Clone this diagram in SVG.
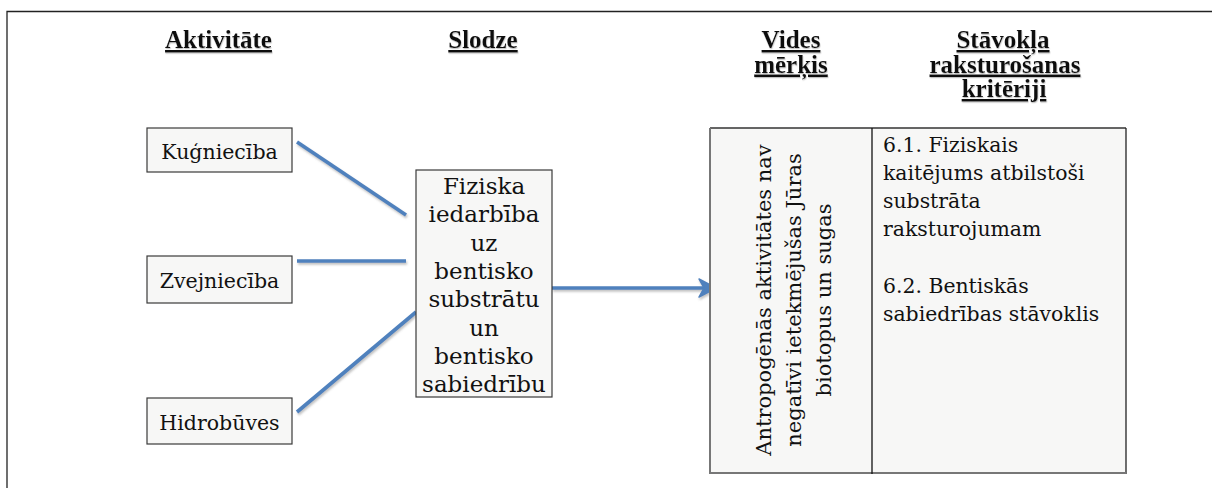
<svg xmlns="http://www.w3.org/2000/svg" width="1212" height="488" viewBox="0 0 1212 488">
<defs>
<style>
.t{font-family:'DejaVu Serif','Liberation Serif',serif;fill:#111}
.h{font-family:'Liberation Serif','DejaVu Serif',serif;font-weight:bold;font-size:25px;fill:#111;text-decoration:underline;text-anchor:middle}
.box{fill:#f7f7f6;stroke:#3a3a3a;stroke-width:1.2}
.lb{font-size:20.5px;text-anchor:middle}
.mb{font-size:23px;text-anchor:middle}
.rt{font-size:20.4px}
.rot{font-size:21px;text-anchor:middle}
.con{stroke:#4f81bd;stroke-width:3.6;fill:none}
</style>
<filter id="sh" x="-10%" y="-10%" width="130%" height="140%">
<feDropShadow dx="1" dy="2" stdDeviation="1" flood-color="#777" flood-opacity="0.45"/>
</filter>
<filter id="tsh" x="-5%" y="-10%" width="115%" height="140%">
<feDropShadow dx="0.5" dy="1.2" stdDeviation="0.4" flood-color="#999" flood-opacity="0.6"/>
</filter>
</defs>
<rect width="1212" height="488" fill="#fff"/>
<path d="M7,488 V11.5 H1212" fill="none" stroke="#222" stroke-width="1.3"/>

<g id="titles" filter="url(#tsh)">
<text class="h" x="218.5" y="48">Aktivitāte</text>
<text class="h" x="483" y="48">Slodze</text>
<text class="h" x="791" y="48">Vides</text>
<text class="h" x="791" y="72.5">mērķis</text>
<text class="h" x="1003" y="48">Stāvokļa</text>
<text class="h" x="1005" y="72.5">raksturošanas</text>
<text class="h" x="1004" y="97">kritēriji</text>
</g>

<g id="connectors" filter="url(#sh)">
<line class="con" x1="297" y1="142" x2="406" y2="215"/>
<line class="con" x1="297" y1="261" x2="406" y2="261"/>
<line class="con" x1="297" y1="412" x2="416" y2="312"/>
<line class="con" x1="552" y1="288" x2="705" y2="288"/>
<path d="M716,288 L699,279 L704,288 L699,297 Z" fill="#4f81bd" stroke="#4f81bd" stroke-width="1.5" stroke-linejoin="round"/>
</g>

<g id="n-kugnieciba">
<rect class="box" x="147" y="128" width="145" height="44"/>
<text class="t lb" x="219.5" y="158.5">Kuģniecība</text>
</g>
<g id="n-zvejnieciba">
<rect class="box" x="147" y="256" width="145" height="47"/>
<text class="t lb" x="219.5" y="287.5">Zvejniecība</text>
</g>
<g id="n-hidrobuves">
<rect class="box" x="147" y="398" width="145" height="46"/>
<text class="t lb" x="219.5" y="429.5">Hidrobūves</text>
</g>

<g id="n-slodze">
<rect class="box" x="416" y="170" width="136" height="227"/>
<text class="t mb" x="484" y="194">Fiziska</text>
<text class="t mb" x="484" y="222.3">iedarbība</text>
<text class="t mb" x="484" y="250.6">uz</text>
<text class="t mb" x="484" y="278.9">bentisko</text>
<text class="t mb" x="484" y="307.2">substrātu</text>
<text class="t mb" x="484" y="335.5">un</text>
<text class="t mb" x="484" y="363.8">bentisko</text>
<text class="t mb" x="484" y="392">sabiedrību</text>
</g>

<g id="n-tabula">
<rect x="710" y="128" width="416" height="345" fill="#f7f7f6"/>
<line x1="710" y1="128" x2="1126" y2="128" stroke="#333" stroke-width="1.3"/>
<line x1="1126" y1="128" x2="1126" y2="474" stroke="#222" stroke-width="1.3"/>
<line x1="710" y1="128" x2="710" y2="474" stroke="#777" stroke-width="2"/>
<line x1="710" y1="473" x2="1126" y2="473" stroke="#777" stroke-width="2"/>
<line x1="872" y1="128" x2="872" y2="474" stroke="#111" stroke-width="1.3"/>
<g transform="translate(771,300) rotate(-90)">
<text class="t rot" x="0" y="0">Antropogēnās aktivitātes nav</text>
<text class="t rot" x="0" y="30">negatīvi ietekmējušas Jūras</text>
<text class="t rot" x="0" y="60">biotopus un sugas</text>
</g>
<text class="t rt" x="883" y="151.5">6.1. Fiziskais</text>
<text class="t rt" x="883" y="179.8">kaitējums atbilstoši</text>
<text class="t rt" x="883" y="208.1">substrāta</text>
<text class="t rt" x="883" y="236.4">raksturojumam</text>
<text class="t rt" x="883" y="293">6.2. Bentiskās</text>
<text class="t rt" x="883" y="321.3">sabiedrības stāvoklis</text>
</g>
</svg>
